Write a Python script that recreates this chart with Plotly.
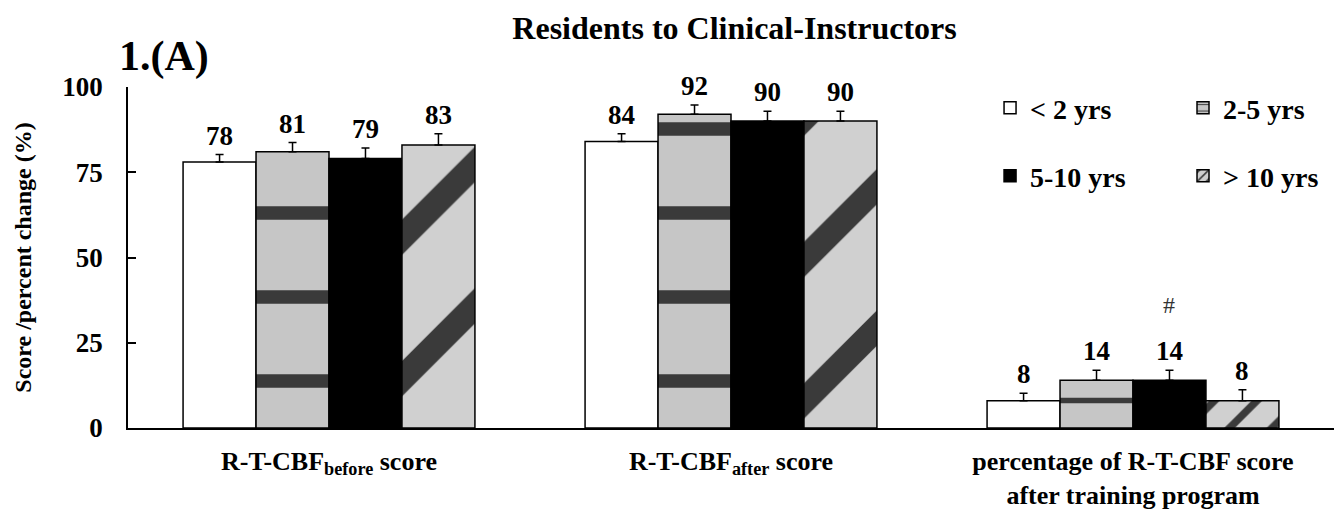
import plotly.graph_objects as go

# Categories (x axis groups) and experience-level series
groups = [
    "R-T-CBF<sub>before</sub> score",
    "R-T-CBF<sub>after</sub> score",
    "percentage of R-T-CBF score<br>after training program",
]
series_names = ["< 2 yrs", "2-5 yrs", "5-10 yrs", "> 10 yrs"]

lt2_vals = [78, 84, 8]
y2_5_vals = [81, 92, 14]
y5_10_vals = [79, 90, 14]
gt10_vals = [83, 90, 8]

lt2_err = [2.2, 2.3, 2.2]
y2_5_err = [2.7, 2.7, 2.9]
y5_10_err = [3.1, 2.9, 2.9]
gt10_err = [3.3, 2.9, 3.2]

y_ticks = [0, 25, 50, 75, 100]

values = [lt2_vals, y2_5_vals, y5_10_vals, gt10_vals]
errors = [lt2_err, y2_5_err, y5_10_err, gt10_err]

SERIF = "Liberation Serif, Times New Roman, serif"
BOLD = dict(family=SERIF, color="black", weight="bold")
BAR_GAP = 0.274

styles = [
    dict(color="#ffffff"),
    dict(color="#c6c6c6",
         pattern=dict(shape="-", fgcolor="#3a3a3a", bgcolor="#c6c6c6",
                      size=[84, 84, 33], solidity=0.16, fillmode="replace")),
    dict(color="#000000"),
    dict(color="#d0d0d0",
         pattern=dict(shape="/", fgcolor="#3a3a3a", bgcolor="#d0d0d0",
                      size=[100, 100, 30], solidity=0.25, fillmode="replace")),
]
# one legend box per series, arranged as a 2 x 2 key
legend_ids = ["legend", "legend2", "legend3", "legend4"]
legend_x = [0.7148, 0.8748, 0.7148, 0.8748]
legend_y = [0.938, 0.938, 0.739, 0.739]

fig = go.Figure()
for name, vals, errs, style, lg in zip(series_names, values, errors, styles, legend_ids):
    fig.add_trace(go.Bar(
        x=groups, y=vals, name=name, legend=lg, showlegend=True,
        marker=dict(line=dict(color="black", width=1.5), **style),
        error_y=dict(type="data", symmetric=False, array=errs,
                     arrayminus=[0] * len(errs), color="black",
                     thickness=1.5, width=4),
    ))

# Value labels above the error caps
bar_w = (1 - BAR_GAP) / len(series_names)
for k, (vals, errs) in enumerate(zip(values, errors)):
    for gi, (v, e) in enumerate(zip(vals, errs)):
        fig.add_annotation(
            x=gi + (k - 1.5) * bar_w, y=v + e, text=str(v),
            showarrow=False, yanchor="bottom", yshift=2,
            font=dict(size=27, **BOLD),
        )

# Significance marker over the 5-10 yrs percentage bar
fig.add_annotation(
    x=2 + (2 - 1.5) * bar_w, y=y5_10_vals[2] + y5_10_err[2], text="#",
    showarrow=False, yanchor="middle", yshift=65,
    font=dict(family=SERIF, size=24, color="#333333"),
)

# Panel label
fig.add_annotation(
    xref="paper", yref="paper", x=-0.009, y=1.088, xanchor="left",
    yanchor="middle", text="1.(A)", showarrow=False,
    font=dict(size=42, **BOLD),
)

legends = {}
for lg, lx, ly in zip(legend_ids, legend_x, legend_y):
    legends[lg] = dict(
        visible=True, orientation="h", xanchor="left", yanchor="middle",
        x=lx, y=ly, bgcolor="rgba(0,0,0,0)", font=dict(size=28, **BOLD),
        itemclick=False, itemdoubleclick=False,
    )

fig.update_layout(
    width=1338, height=510,
    margin=dict(l=128, r=4, t=87, b=82),
    paper_bgcolor="white", plot_bgcolor="white",
    showlegend=True,
    barmode="group", bargap=BAR_GAP, bargroupgap=0,
    title=dict(text="Residents to Clinical-Instructors", x=0.549, xanchor="center",
               y=0.945, yanchor="middle", font=dict(size=32, **BOLD)),
    xaxis=dict(
        showline=True, linecolor="black", linewidth=1.5, ticks="",
        showgrid=False, tickfont=dict(size=26, **BOLD), ticklabelstandoff=9,
        automargin=False,
    ),
    yaxis=dict(
        range=[0, 100], tickvals=y_ticks, ticks="inside", ticklen=8,
        tickwidth=1.5, tickcolor="black", showline=True, linecolor="black",
        linewidth=1.5, showgrid=False, zeroline=False, automargin=False,
        tickfont=dict(size=27, **BOLD), ticklabelstandoff=18,
        title=dict(text="Score /percent change (%)", standoff=24,
                   font=dict(size=24, **BOLD)),
    ),
    **legends,
)

fig.write_html("out.html")
